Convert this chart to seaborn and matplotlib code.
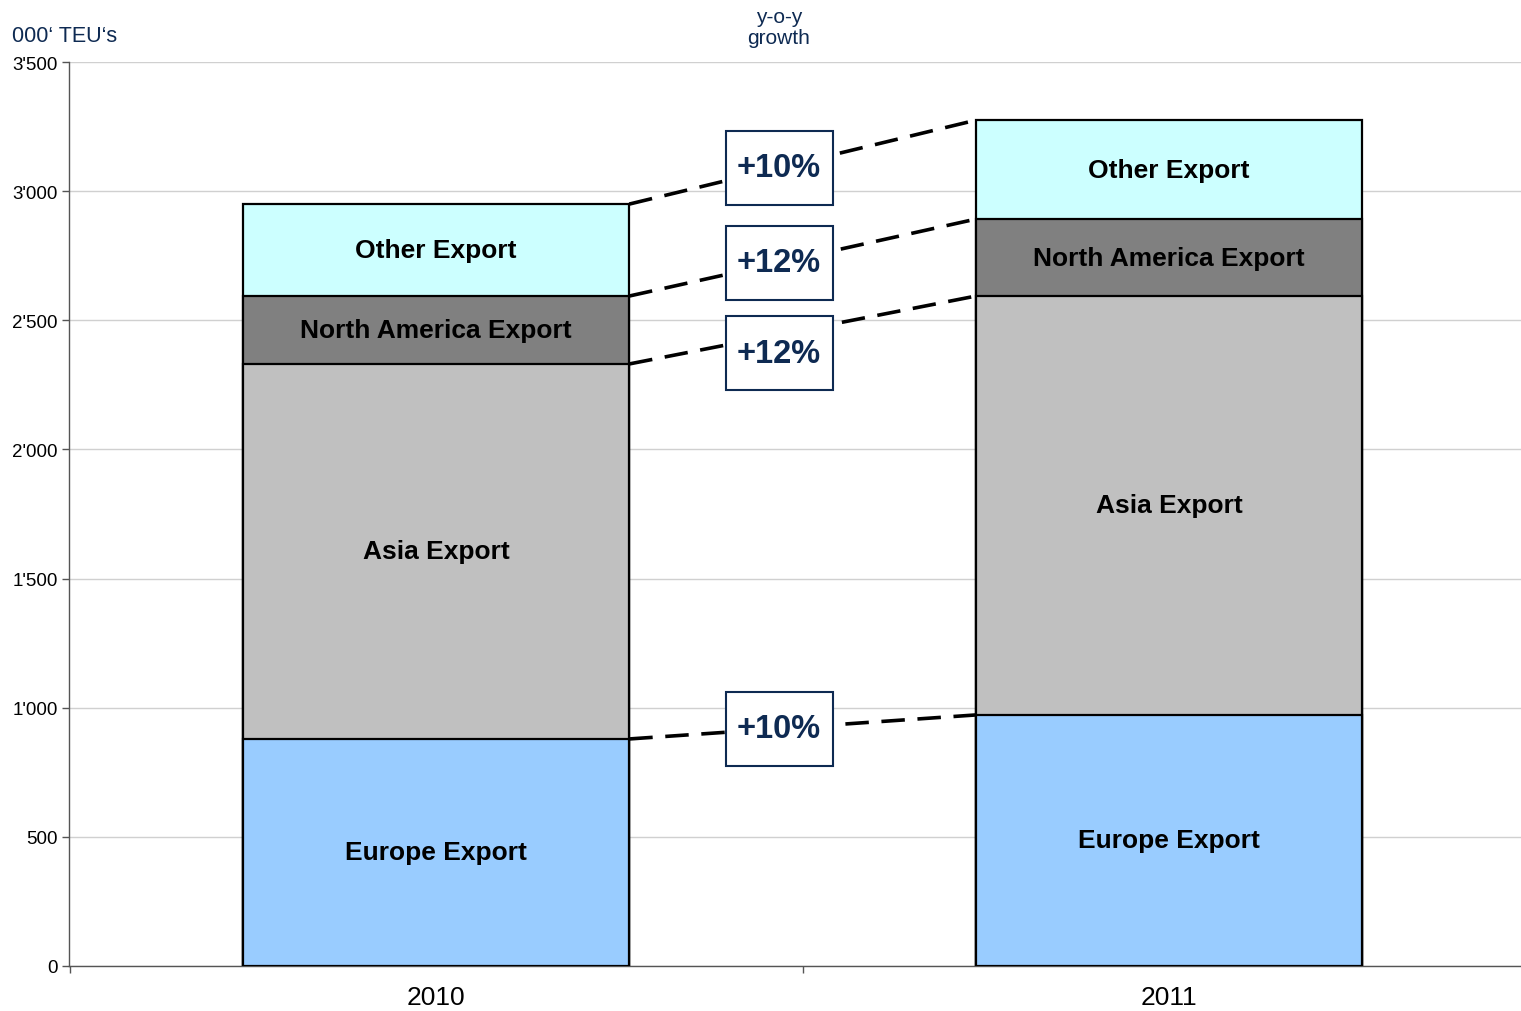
import matplotlib
matplotlib.use("Agg")
import matplotlib.pyplot as plt
from matplotlib.patches import Rectangle
from matplotlib.ticker import FuncFormatter, FixedLocator
import seaborn as sns
import pandas as pd

# Werte (000' TEU) je Jahr und Segment
years = ["2010", "2011"]
europe = [879, 972]
asia = [1452, 1622]
north_america = [263, 298]
other = [356, 383]
segments = ["Europe Export", "Asia Export", "North America Export", "Other Export"]
seg_colors = ["#99CCFF", "#C0C0C0", "#808080", "#CCFFFF"]
# Wachstum, von oben nach unten (Other, North America, Asia, Europe)
growth = ["+10%", "+12%", "+12%", "+10%"]

navy = "#0E2A52"

sns.set_theme(style="white")
plt.rcParams["font.family"] = ["Liberation Sans", "DejaVu Sans"]

fig = plt.figure(figsize=(15.21, 10.12), dpi=100)
ax = fig.add_axes([0.0454, 0.0445, 0.9546, 0.8932])

df = pd.DataFrame({"year": years, "Europe Export": europe, "Asia Export": asia,
                   "North America Export": north_america, "Other Export": other})
cum = df[segments].cumsum(axis=1)
bar_w = 0.527

# gestapelt: hoechste Summe zuerst zeichnen
for seg, col in reversed(list(zip(segments, seg_colors))):
    sns.barplot(x=df["year"], y=cum[seg], color=col, width=bar_w, edgecolor="black",
                linewidth=1.6, saturation=1, ax=ax, zorder=3)

# Segmentbeschriftungen
for i in range(len(years)):
    lower = 0
    for seg in segments:
        upper = cum.loc[i, seg]
        ax.text(i, (lower + upper) / 2, seg, ha="center", va="center",
                fontsize=19, fontweight="bold", color="black", zorder=5)
        lower = upper

# gestrichelte Verbindungslinien + Wachstumsboxen
x0, x1 = bar_w / 2, 1 - bar_w / 2
box_x = 0.468
tops = list(reversed(segments))
label_y = []
for k, seg in enumerate(tops):
    y0, y1 = cum.loc[0, seg], cum.loc[1, seg]
    ax.plot([x0, x1], [y0, y1], color="black", lw=2.6, linestyle=(0, (6.5, 3.5)),
            zorder=4, solid_capstyle="butt")
    yl = y0 + (y1 - y0) * (box_x - x0) / (x1 - x0)
    if label_y:
        yl = min(yl, label_y[-1] - 350)
    label_y.append(yl)

box_w, box_h = 107 / 733, 74 / 0.25829
for g, yl in zip(growth, label_y):
    ax.add_patch(Rectangle((box_x - box_w / 2, yl - box_h / 2), box_w, box_h,
                           facecolor="white", edgecolor=navy, lw=1.5, zorder=6))
    ax.text(box_x, yl, g, ha="center", va="center", fontsize=23.5,
            fontweight="bold", color=navy, zorder=7)

# Achsen
ax.set_xlim(-0.5007, 1.48)
ax.set_ylim(0, 3500)
ax.set_yticks(range(0, 3501, 500))
ax.yaxis.set_major_formatter(FuncFormatter(lambda v, p: f"{int(v):,}".replace(",", "'")))
ax.yaxis.grid(True, color="#D0D0D0", lw=1)
ax.set_axisbelow(True)
ax.tick_params(axis="y", which="major", left=True, length=5, width=1, color="#555555",
               labelsize=13.5, pad=3, labelcolor="black")
ax.tick_params(axis="x", which="major", length=0, labelsize=19, pad=14, labelcolor="black")
ax.xaxis.set_minor_locator(FixedLocator([-0.5, 0.5]))
ax.tick_params(axis="x", which="minor", bottom=True, length=5, width=1, color="#555555")
ax.set_xlabel("")
ax.set_ylabel("")
for s in ["top", "right"]:
    ax.spines[s].set_visible(False)
for s in ["left", "bottom"]:
    ax.spines[s].set_color("#555555")
    ax.spines[s].set_linewidth(1)

fig.text(12 / 1521, 1 - 37 / 1012, "000\u2018 TEU\u2018s", fontsize=15.5, color=navy,
         ha="left", va="center")
fig.text(779 / 1521, 1 - 28 / 1012, "y-o-y\ngrowth", fontsize=15, color=navy,
         ha="center", va="center", linespacing=1.1)

fig.savefig("out.png", dpi=100)
